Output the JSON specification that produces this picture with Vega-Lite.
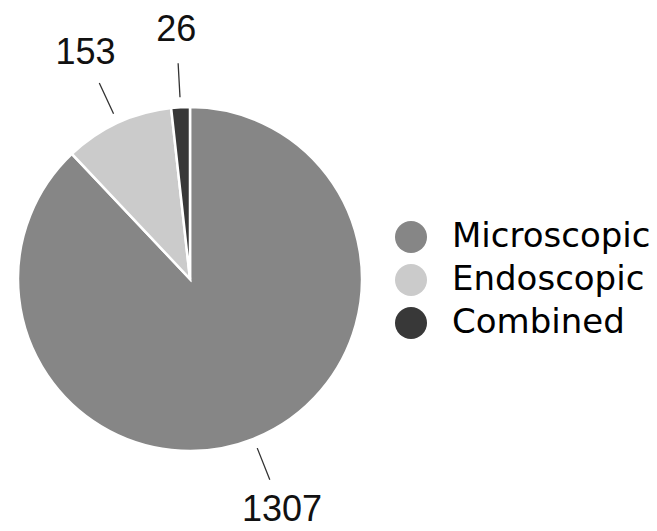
{
  "$schema": "https://vega.github.io/schema/vega-lite/v6.json",
  "width": 380,
  "height": 500,
  "autosize": "none",
  "padding": {"left": 0, "top": 29, "right": 277, "bottom": 2},
  "background": "white",
  "config": {"view": {"stroke": null}},
  "data": {
    "values": [
      {"category": "Microscopic", "value": 1307},
      {"category": "Endoscopic", "value": 153},
      {"category": "Combined", "value": 26}
    ]
  },
  "transform": [
    {"stack": "value", "groupby": [], "sort": [{"field": "value", "order": "descending"}], "as": ["v0", "v1"]}
  ],
  "layer": [
    {
      "mark": {"type": "arc", "outerRadius": 172, "stroke": "white", "strokeWidth": 2.5},
      "encoding": {
        "theta": {"field": "v0", "type": "quantitative", "stack": null, "scale": {"domain": [0, 1486], "zero": true, "nice": false}},
        "theta2": {"field": "v1"},
        "color": {
          "field": "category",
          "type": "nominal",
          "scale": {"domain": ["Microscopic", "Endoscopic", "Combined"], "range": ["#868686", "#cbcbcb", "#383838"]},
          "legend": {
            "orient": "none",
            "legendX": 394,
            "legendY": 191,
            "title": null,
            "symbolType": "circle",
            "symbolSize": 1024,
            "symbolStrokeWidth": 0,
            "symbolOpacity": 1,
            "labelFontSize": 34,
            "labelFont": "DejaVu Sans",
            "labelColor": "black",
            "labelOffset": 24,
            "rowPadding": 9,
            "padding": 0,
            "labelLimit": 400
          }
        }
      }
    },
    {
      "transform": [
        {"fold": ["v0", "v1"], "as": ["k", "bound"]},
        {"aggregate": [{"op": "mean", "field": "bound", "as": "mid"}], "groupby": ["category", "value"]}
      ],
      "mark": {"type": "text", "radius": 249, "fontSize": 36, "font": "Liberation Sans", "color": "#111111", "baseline": "middle", "align": "center"},
      "encoding": {
        "theta": {"field": "mid", "type": "quantitative", "stack": null},
        "text": {"field": "value", "type": "quantitative"}
      }
    },
    {
      "transform": [
        {"fold": ["v0", "v1"], "as": ["k", "bound"]},
        {"aggregate": [{"op": "mean", "field": "bound", "as": "mid"}], "groupby": ["category", "value"]}
      ],
      "mark": {"type": "arc", "radius": 216, "radius2": 182, "filled": false, "stroke": "#333333", "strokeWidth": 1.3},
      "encoding": {
        "theta": {"field": "mid", "type": "quantitative", "stack": null},
        "theta2": {"field": "mid"}
      }
    }
  ]
}
